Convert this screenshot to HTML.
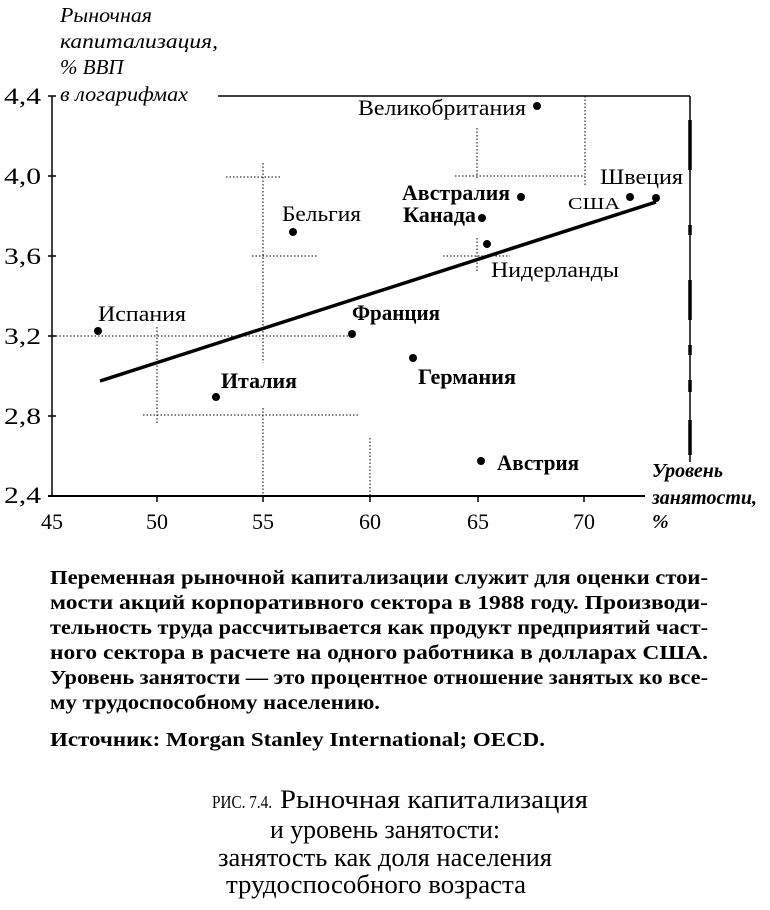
<!DOCTYPE html>
<html><head><meta charset="utf-8"><style>
body{margin:0;background:#fff}
svg{display:block}
text{font-family:"Liberation Serif","DejaVu Serif",serif;fill:#000}
.it{font-style:italic}
.b{font-weight:bold}
</style></head><body>
<svg width="770" height="910" viewBox="0 0 770 910" xmlns="http://www.w3.org/2000/svg">
<g class="it" font-size="21">
<text x="60" y="22" textLength="92" lengthAdjust="spacingAndGlyphs">Рыночная</text>
<text x="60" y="48" textLength="158" lengthAdjust="spacingAndGlyphs">капитализация,</text>
<text x="60" y="74">% ВВП</text>
<text x="60" y="101" textLength="128" lengthAdjust="spacingAndGlyphs">в логарифмах</text>
</g>
<g stroke="#000" fill="none">
<line x1="52" y1="96" x2="52" y2="497" stroke-width="1.5"/>
<line x1="48" y1="496" x2="645" y2="496" stroke-width="2"/>
<line x1="218" y1="96" x2="690" y2="96" stroke-width="1.5"/>
<line x1="690" y1="96" x2="690" y2="462" stroke-width="1.5"/>
<line x1="690" y1="120" x2="690" y2="170" stroke-width="3.5"/>
<line x1="690" y1="225" x2="690" y2="235" stroke-width="3.5"/>
<line x1="690" y1="280" x2="690" y2="320" stroke-width="3.5"/>
<line x1="690" y1="345" x2="690" y2="355" stroke-width="3.5"/>
<line x1="690" y1="380" x2="690" y2="392" stroke-width="3.5"/>
<line x1="690" y1="420" x2="690" y2="455" stroke-width="3.5"/>
<g stroke-width="1.5">
<line x1="48" y1="96" x2="56" y2="96"/><line x1="48" y1="176" x2="56" y2="176"/>
<line x1="48" y1="256" x2="56" y2="256"/><line x1="48" y1="336" x2="56" y2="336"/>
<line x1="48" y1="416" x2="56" y2="416"/>
<line x1="157" y1="496" x2="157" y2="502"/><line x1="263" y1="496" x2="263" y2="502"/>
<line x1="370" y1="496" x2="370" y2="502"/><line x1="478" y1="496" x2="478" y2="502"/>
<line x1="584" y1="496" x2="584" y2="502"/>
</g>
<g stroke-width="1" stroke-dasharray="1.5,2">
<line x1="226" y1="177" x2="281" y2="177"/>
<line x1="263" y1="163" x2="263" y2="363"/>
<line x1="252" y1="256" x2="318" y2="256"/>
<line x1="56" y1="336" x2="352" y2="336"/>
<line x1="157" y1="327" x2="157" y2="423"/>
<line x1="143" y1="415" x2="360" y2="415"/>
<line x1="263" y1="408" x2="263" y2="496"/>
<line x1="370" y1="438" x2="370" y2="496"/>
<line x1="477" y1="128" x2="477" y2="178"/>
<line x1="585" y1="96" x2="585" y2="185"/>
<line x1="455" y1="176" x2="585" y2="176"/>
<line x1="477" y1="238" x2="477" y2="272"/>
<line x1="443" y1="256" x2="510" y2="256"/>
</g>
<line x1="100" y1="381" x2="656" y2="202" stroke-width="3.5"/>
</g>
<g font-size="23">
<text x="4" y="104" textLength="37" lengthAdjust="spacingAndGlyphs">4,4</text><text x="4" y="184" textLength="37" lengthAdjust="spacingAndGlyphs">4,0</text>
<text x="4" y="264" textLength="37" lengthAdjust="spacingAndGlyphs">3,6</text><text x="4" y="344" textLength="37" lengthAdjust="spacingAndGlyphs">3,2</text>
<text x="4" y="424" textLength="37" lengthAdjust="spacingAndGlyphs">2,8</text><text x="4" y="503" textLength="37" lengthAdjust="spacingAndGlyphs">2,4</text>
</g>
<g font-size="22" text-anchor="middle">
<text x="52" y="529">45</text><text x="157" y="529">50</text><text x="263" y="529">55</text>
<text x="370" y="529">60</text><text x="478" y="529">65</text><text x="584" y="529">70</text>
</g>
<g class="it b" font-size="20">
<text x="652" y="477" textLength="71" lengthAdjust="spacingAndGlyphs">Уровень</text>
<text x="652" y="504" textLength="105" lengthAdjust="spacingAndGlyphs">занятости,</text>
<text x="652" y="528">%</text>
</g>
<g fill="#000">
<circle cx="537" cy="106" r="4"/><circle cx="293" cy="232" r="4"/>
<circle cx="98" cy="331" r="4"/><circle cx="352" cy="334" r="4"/>
<circle cx="216" cy="397" r="4"/><circle cx="413" cy="358" r="4"/>
<circle cx="521" cy="197" r="4"/><circle cx="482" cy="218" r="4"/>
<circle cx="487" cy="244" r="4"/><circle cx="630" cy="197" r="4"/>
<circle cx="656" cy="198" r="4"/><circle cx="481" cy="461" r="4"/>
</g>
<g font-size="22">
<text x="358" y="115" textLength="168" lengthAdjust="spacingAndGlyphs">Великобритания</text>
<text x="282" y="221" textLength="79" lengthAdjust="spacingAndGlyphs">Бельгия</text>
<text x="98" y="321" textLength="88" lengthAdjust="spacingAndGlyphs">Испания</text>
<text x="352" y="320" class="b" textLength="88" lengthAdjust="spacingAndGlyphs">Франция</text>
<text x="221" y="388" class="b" textLength="76" lengthAdjust="spacingAndGlyphs">Италия</text>
<text x="418" y="384" class="b" textLength="98" lengthAdjust="spacingAndGlyphs">Германия</text>
<text x="402" y="200" class="b" textLength="108" lengthAdjust="spacingAndGlyphs">Австралия</text>
<text x="403" y="222" class="b" textLength="73" lengthAdjust="spacingAndGlyphs">Канада</text>
<text x="491" y="277" textLength="128" lengthAdjust="spacingAndGlyphs">Нидерланды</text>
<text x="568" y="209" font-size="17" textLength="52" lengthAdjust="spacingAndGlyphs">США</text>
<text x="600" y="184" textLength="83" lengthAdjust="spacingAndGlyphs">Швеция</text>
<text x="497" y="470" class="b" textLength="82" lengthAdjust="spacingAndGlyphs">Австрия</text>
</g>
<g font-size="20" font-weight="bold">
<text x="50" y="584" textLength="658" lengthAdjust="spacingAndGlyphs">Переменная рыночной капитализации служит для оценки стои-</text>
<text x="50" y="609" textLength="658" lengthAdjust="spacingAndGlyphs">мости акций корпоративного сектора в 1988 году. Производи-</text>
<text x="50" y="634" textLength="658" lengthAdjust="spacingAndGlyphs">тельность труда рассчитывается как продукт предприятий част-</text>
<text x="50" y="659" textLength="658" lengthAdjust="spacingAndGlyphs">ного сектора в расчете на одного работника в долларах США.</text>
<text x="50" y="684" textLength="658" lengthAdjust="spacingAndGlyphs">Уровень занятости — это процентное отношение занятых ко все-</text>
<text x="50" y="709" textLength="330" lengthAdjust="spacingAndGlyphs">му трудоспособному населению.</text>
<text x="50" y="746" textLength="495" lengthAdjust="spacingAndGlyphs">Источник: Morgan Stanley International; OECD.</text>
</g>
<g font-size="26">
<text x="212" y="808" font-size="18" textLength="60" lengthAdjust="spacingAndGlyphs">РИС. 7.4.</text>
<text x="280" y="808" textLength="308" lengthAdjust="spacingAndGlyphs">Рыночная капитализация</text>
<text x="270" y="838" textLength="230" lengthAdjust="spacingAndGlyphs">и уровень занятости:</text>
<text x="218" y="866" textLength="334" lengthAdjust="spacingAndGlyphs">занятость как доля населения</text>
<text x="226" y="893" textLength="300" lengthAdjust="spacingAndGlyphs">трудоспособного возраста</text>
</g>
</svg>
</body></html>
